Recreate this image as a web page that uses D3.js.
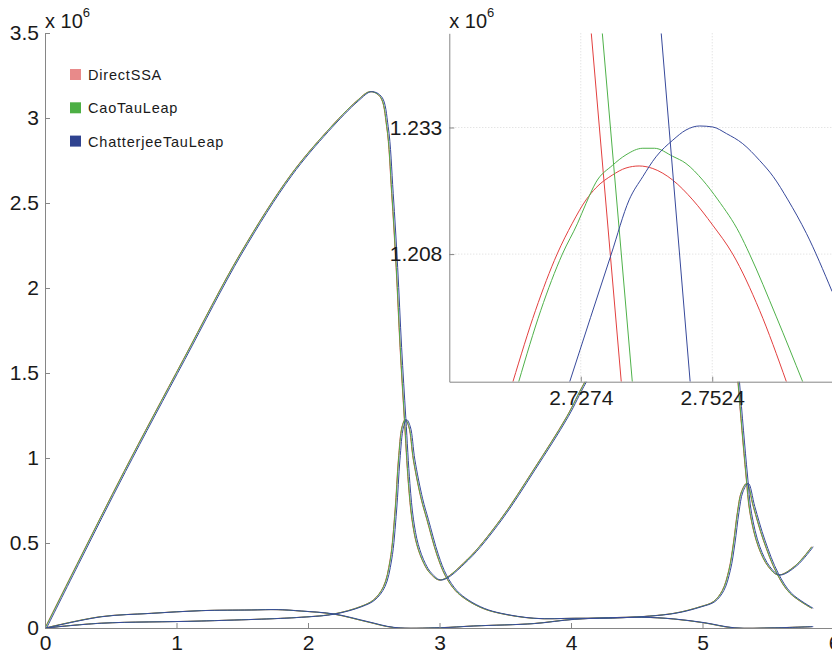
<!DOCTYPE html>
<html>
<head>
<meta charset="utf-8">
<script src="https://cdn.jsdelivr.net/npm/d3@7"></script>
<style>
  body { margin: 0; background: #fff; }
  svg { display: block; }
  text { font-family: "Liberation Sans", Arial, sans-serif; fill: #1a1a1a; }
</style>
</head>
<body>
<svg id="chart" width="832" height="657"></svg>
<script>
// series names and colours
const algorithms = ["DirectSSA", "CaoTauLeap", "ChatterjeeTauLeap"];
const legendColors = ["#e88a8a", "#4caf44", "#2f4390"];
const lineColors = ["#e2403f", "#4fb14a", "#37499b"];
// time lag of each algorithm vs DirectSSA
const lagT = [0, 0.0016, 0.012];

// main plot: [time, value x 10^6]
const speciesX = [
  [0, 0], [0.259, 0.400], [0.6, 0.92], [1.052, 1.58], [1.483, 2.20], [1.863, 2.66],
  [2.142, 2.92], [2.370, 3.10], [2.471, 3.155], [2.548, 3.125], [2.598, 2.949],
  [2.636, 2.557], [2.670, 2.12], [2.700, 1.65], [2.732, 1.234], [2.763, 0.85],
  [2.79, 0.64], [2.827, 0.49], [2.88, 0.38], [2.928, 0.322], [3.004, 0.282],
  [3.207, 0.400], [3.460, 0.635], [3.713, 0.929], [3.967, 1.243], [4.106, 1.449],
  [4.5, 1.95], [4.8, 2.3], [5.07, 2.55], [5.18, 2.3], [5.25, 1.65], [5.270, 1.441],
  [5.300, 1.16], [5.330, 0.90], [5.361, 0.675], [5.424, 0.478], [5.500, 0.361],
  [5.576, 0.312], [5.703, 0.365], [5.830, 0.478]
];
const speciesY = [
  [0, 0], [0.418, 0.028], [1.179, 0.041], [1.939, 0.063], [2.192, 0.082],
  [2.395, 0.125], [2.497, 0.165], [2.573, 0.243], [2.624, 0.400], [2.662, 0.694],
  [2.687, 0.988], [2.7145, 1.183], [2.7385, 1.2254], [2.7665, 1.183], [2.801, 0.988],
  [2.86, 0.76], [2.903, 0.64], [2.98, 0.43], [3.042, 0.31], [3.12, 0.22],
  [3.207, 0.165], [3.33, 0.115], [3.460, 0.086], [3.713, 0.057], [4.017, 0.057],
  [4.398, 0.061], [4.778, 0.086], [4.981, 0.125], [5.082, 0.155], [5.15, 0.22],
  [5.20, 0.34], [5.235, 0.50], [5.265, 0.68], [5.295, 0.80], [5.336, 0.851],
  [5.386, 0.714], [5.462, 0.518], [5.564, 0.322], [5.665, 0.204], [5.830, 0.116]
];
const speciesZ = [
  [0, 0], [0.418, 0.066], [0.798, 0.086], [1.179, 0.102], [1.559, 0.106],
  [1.762, 0.108], [1.939, 0.100], [2.192, 0.082], [2.446, 0.037], [2.649, 0.003],
  [3.004, 0.002], [3.257, 0.012], [3.711, 0.026], [4.017, 0.051], [4.525, 0.063],
  [4.778, 0.053], [5.006, 0.031], [5.234, 0.001], [5.536, 0.001], [5.830, 0.008]
];

// inset (zoom on the first peak)
const insetPeak = [
  [[2.7145, 1.1828], [2.7188, 1.1969], [2.7229, 1.208], [2.7258, 1.2141], [2.7284, 1.2187],
   [2.7303, 1.2211], [2.7334, 1.2236], [2.7360, 1.2250], [2.7385, 1.2254], [2.7411, 1.2249],
   [2.7449, 1.2226], [2.7487, 1.2187], [2.7525, 1.2137], [2.7563, 1.208], [2.7614, 1.1969],
   [2.7665, 1.1828]],
  [[2.7156, 1.1828], [2.7198, 1.1969], [2.7239, 1.208], [2.7268, 1.2141], [2.7284, 1.2180],
   [2.7303, 1.2222], [2.7334, 1.2255], [2.7360, 1.2276], [2.7392, 1.2289], [2.7414, 1.2289],
   [2.7449, 1.2273], [2.7474, 1.2259], [2.7506, 1.2226], [2.7535, 1.2187], [2.7576, 1.2121],
   [2.7595, 1.208], [2.7646, 1.1956], [2.7696, 1.1828]],
  [[2.7253, 1.1828], [2.7332, 1.208], [2.7366, 1.2187], [2.7392, 1.2233], [2.7417, 1.2272],
   [2.7449, 1.2305], [2.7474, 1.2325], [2.7500, 1.2333], [2.7525, 1.2331], [2.7551, 1.2318],
   [2.7582, 1.2298], [2.7614, 1.2265], [2.7640, 1.2233], [2.7668, 1.2187], [2.7703, 1.2121],
   [2.7752, 1.2006]]
];
const insetDrop = [
  [[2.7294, 1.2516], [2.7351, 1.1828]],
  [[2.7315, 1.2516], [2.7372, 1.1828]],
  [[2.7427, 1.2516], [2.7482, 1.1828]]
];

const mainXTicks = [0, 1, 2, 3, 4, 5, 6];
const mainYTicks = [0, 0.5, 1, 1.5, 2, 2.5, 3, 3.5];
const insetXTicks = [2.7274, 2.7524];
const insetYTicks = [1.208, 1.233];

const svg = d3.select("#chart");
const axisColor = "#868686";

// main axes
const x = d3.scaleLinear().domain([0, 6]).range([45, 834]);
const y = d3.scaleLinear().domain([0, 3.5]).range([628, 33]);

svg.append("clipPath").attr("id", "clipMain")
  .append("rect").attr("x", 45).attr("y", 30).attr("width", 789).attr("height", 599);

const line = d3.line()
  .x(d => x(d[0]))
  .y(d => y(d[1]))
  .curve(d3.curveCatmullRom.alpha(0.5));

const gMain = svg.append("g").attr("clip-path", "url(#clipMain)");
algorithms.forEach((name, i) => {
  [speciesX, speciesY, speciesZ].forEach(s => {
    gMain.append("path")
      .datum(s.map(d => [d[0] + lagT[i], d[1]]))
      .attr("fill", "none")
      .attr("stroke", lineColors[i])
      .attr("stroke-width", 1)
      .attr("d", line);
  });
});

function styleAxis(g) {
  g.select(".domain").attr("stroke", axisColor);
  g.selectAll(".tick line").attr("stroke", axisColor);
  g.selectAll("text").attr("font-size", 21).attr("fill", "#1a1a1a")
    .attr("font-family", "Liberation Sans, Arial, sans-serif");
}

svg.append("g")
  .attr("transform", "translate(0,628)")
  .call(d3.axisBottom(x).tickValues(mainXTicks).tickFormat(d3.format("d"))
    .tickSizeInner(-5).tickSizeOuter(0).tickPadding(7))
  .call(styleAxis);

svg.append("g")
  .attr("transform", "translate(45,0)")
  .call(d3.axisLeft(y).tickValues(mainYTicks).tickFormat(d => d)
    .tickSizeInner(-5).tickSizeOuter(0).tickPadding(6))
  .call(styleAxis);

function expLabel(px) {
  const t = svg.append("text").attr("x", px).attr("y", 28).attr("font-size", 20);
  t.append("tspan").text("x 10");
  t.append("tspan").attr("font-size", 13).attr("dy", -11).text("6");
}
expLabel(45);

// legend
const legend = svg.append("g");
algorithms.forEach((name, i) => {
  legend.append("rect")
    .attr("x", 70).attr("y", 69 + i * 33.3)
    .attr("width", 11).attr("height", 11)
    .attr("fill", legendColors[i]);
  legend.append("text")
    .attr("x", 88).attr("y", 80 + i * 33.3)
    .attr("font-family", "DejaVu Sans, sans-serif")
    .attr("font-size", 14.5)
    .attr("letter-spacing", 0.8)
    .attr("fill", "#2a2a2a")
    .text(name);
});

// inset axes
const ix = d3.scaleLinear().domain([2.7024, 2.7774]).range([449.3, 843.7]);
const iy = d3.scaleLinear().domain([1.1828, 1.2516]).range([381.7, 33.3]);

svg.append("rect")
  .attr("x", 449.3).attr("y", 33.3)
  .attr("width", 394.4).attr("height", 348.4)
  .attr("fill", "#fff");

const gGrid = svg.append("g");
insetXTicks.forEach(t => {
  gGrid.append("line")
    .attr("x1", ix(t)).attr("x2", ix(t))
    .attr("y1", 33.3).attr("y2", 381.7)
    .attr("stroke", "#d8d8d8").attr("stroke-dasharray", "1,2");
});
insetYTicks.forEach(t => {
  gGrid.append("line")
    .attr("x1", 449.3).attr("x2", 843.7)
    .attr("y1", iy(t)).attr("y2", iy(t))
    .attr("stroke", "#d8d8d8").attr("stroke-dasharray", "1,2");
});

svg.append("clipPath").attr("id", "clipInset")
  .append("rect").attr("x", 449.3).attr("y", 33.3).attr("width", 394.4).attr("height", 348.4);

const iline = d3.line()
  .x(d => ix(d[0]))
  .y(d => iy(d[1]));

const gInset = svg.append("g").attr("clip-path", "url(#clipInset)");
algorithms.forEach((name, i) => {
  [insetPeak[i], insetDrop[i]].forEach(s => {
    gInset.append("path")
      .datum(s)
      .attr("fill", "none")
      .attr("stroke", lineColors[i])
      .attr("stroke-width", 1)
      .attr("d", iline.curve(s.length > 2 ? d3.curveMonotoneX : d3.curveLinear));
  });
});

svg.append("g")
  .attr("transform", "translate(0,381.7)")
  .call(d3.axisBottom(ix).tickValues(insetXTicks).tickFormat(d3.format(".4f"))
    .tickSizeInner(-5).tickSizeOuter(0).tickPadding(8))
  .call(styleAxis);

svg.append("g")
  .attr("transform", "translate(449.3,0)")
  .call(d3.axisLeft(iy).tickValues(insetYTicks).tickFormat(d3.format(".3f"))
    .tickSizeInner(-5).tickSizeOuter(0).tickPadding(7))
  .call(styleAxis);

expLabel(449.3);
</script>
</body>
</html>
